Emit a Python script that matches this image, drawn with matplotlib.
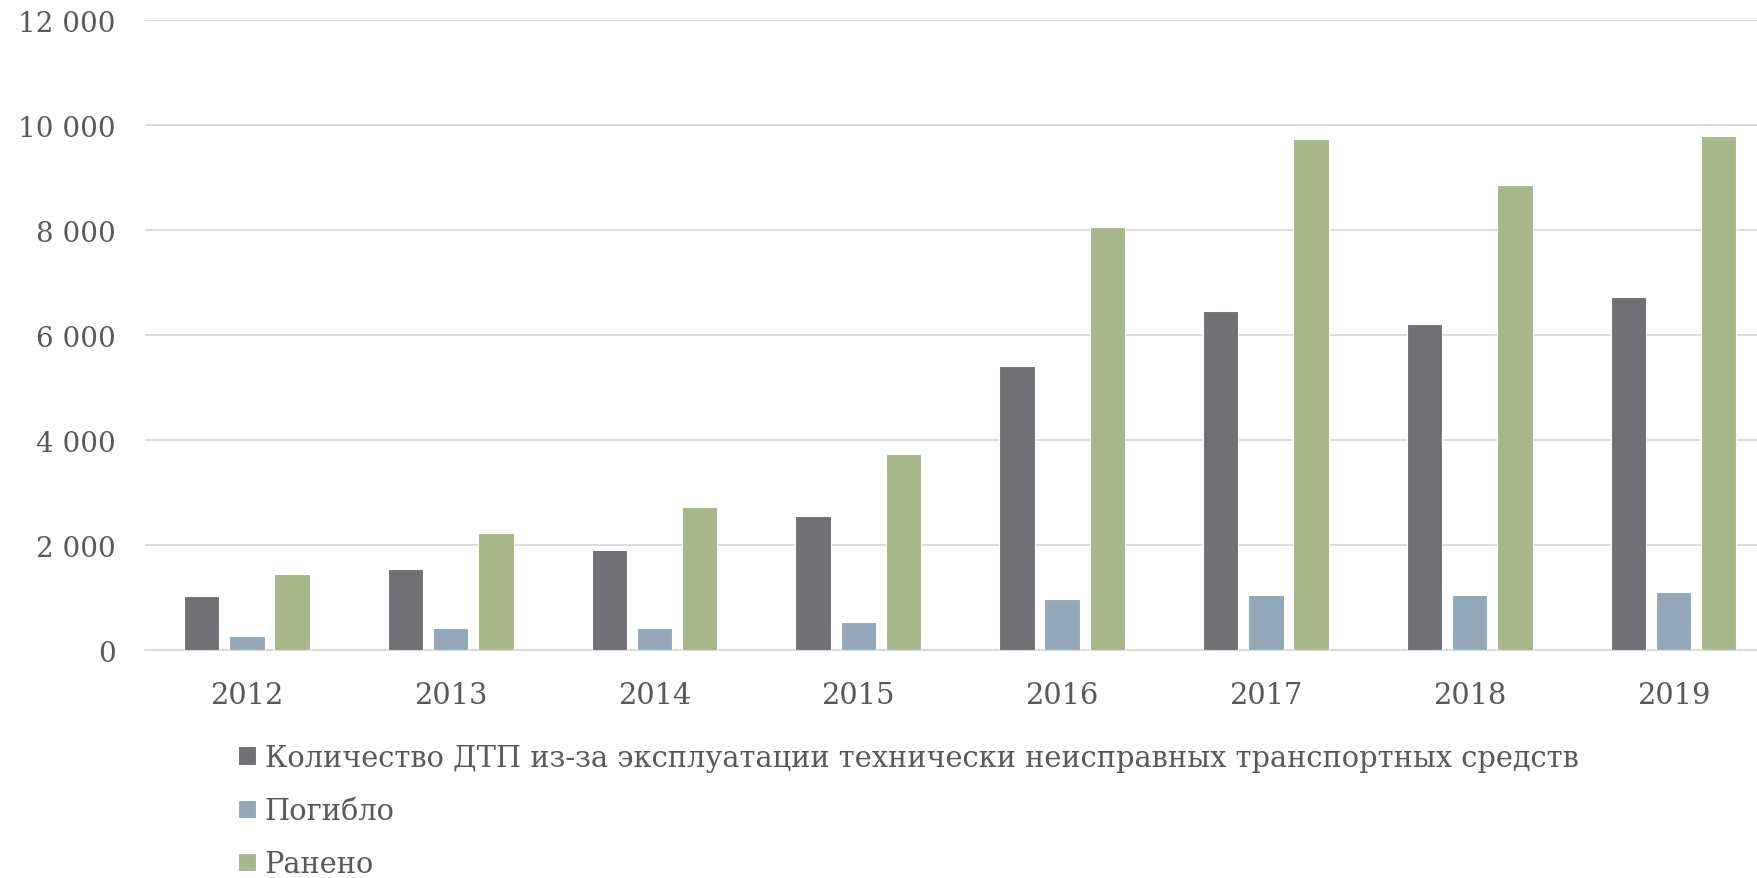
import matplotlib
matplotlib.use("Agg")
import matplotlib.pyplot as plt
import numpy as np
from matplotlib.ticker import FuncFormatter

years = ["2012", "2013", "2014", "2015", "2016", "2017", "2018", "2019"]
accidents = [1025, 1540, 1905, 2548, 5405, 6455, 6218, 6735]
killed = [275, 413, 413, 530, 970, 1055, 1055, 1098]
injured = [1455, 2226, 2718, 3745, 8055, 9745, 8860, 9800]
labels = ["Количество ДТП из-за эксплуатации технически неисправных транспортных средств",
          "Погибло", "Ранено"]
colors = ["#717075", "#93A9B9", "#A7B78A"]
text_color = "#595959"

plt.rcParams['font.family'] = ['DejaVu Serif']

W, H = 1757, 879
fig = plt.figure(figsize=(W / 100, H / 100), dpi=100)
left, right, bottom, top = 145, 1757, 651, 21.4
ax = fig.add_axes([left / W, 1 - bottom / H, (right - left) / W, (bottom - top) / H])

x = np.arange(len(years))
off = 0.222
w = 0.174
series = [accidents, killed, injured]
handles = []
for i, (vals, c, lab) in enumerate(zip(series, colors, labels)):
    b = ax.bar(x + (i - 1) * off, vals, width=w, color=c, edgecolor="white",
               linewidth=0.8, label=lab, zorder=3)
    handles.append(b)

ax.set_ylim(0, 12000)
ax.set_yticks(np.arange(0, 12001, 2000))
ax.yaxis.set_major_formatter(FuncFormatter(lambda v, p: f"{int(v):,}".replace(",", " ")))
pitch_px = 203.8
ax.set_xlim(-0.5, -0.5 + (right - left) / pitch_px)
ax.set_xticks(x)
ax.set_xticklabels(years)

ax.grid(axis="y", color="#D9D9D9", linewidth=1.3, zorder=0)
for s in ["top", "right", "left"]:
    ax.spines[s].set_visible(False)
ax.spines["bottom"].set_color("#D9D9D9")
ax.spines["bottom"].set_linewidth(1.3)
ax.tick_params(axis="both", length=0, labelsize=20, colors=text_color)
ax.tick_params(axis="x", labelsize=20.8)
ax.tick_params(axis="y", pad=21)
ax.tick_params(axis="x", pad=22)

leg = fig.legend(handles=handles, labels=labels, loc="upper left",
                 bbox_to_anchor=(238 / W, 1 - 745 / H), frameon=False,
                 fontsize=20.8, labelcolor=text_color, handlelength=0.62,
                 handleheight=0.62, handletextpad=0.3, labelspacing=0.87,
                 borderpad=0, borderaxespad=0)

fig.savefig("out.png", dpi=100, facecolor="white")
